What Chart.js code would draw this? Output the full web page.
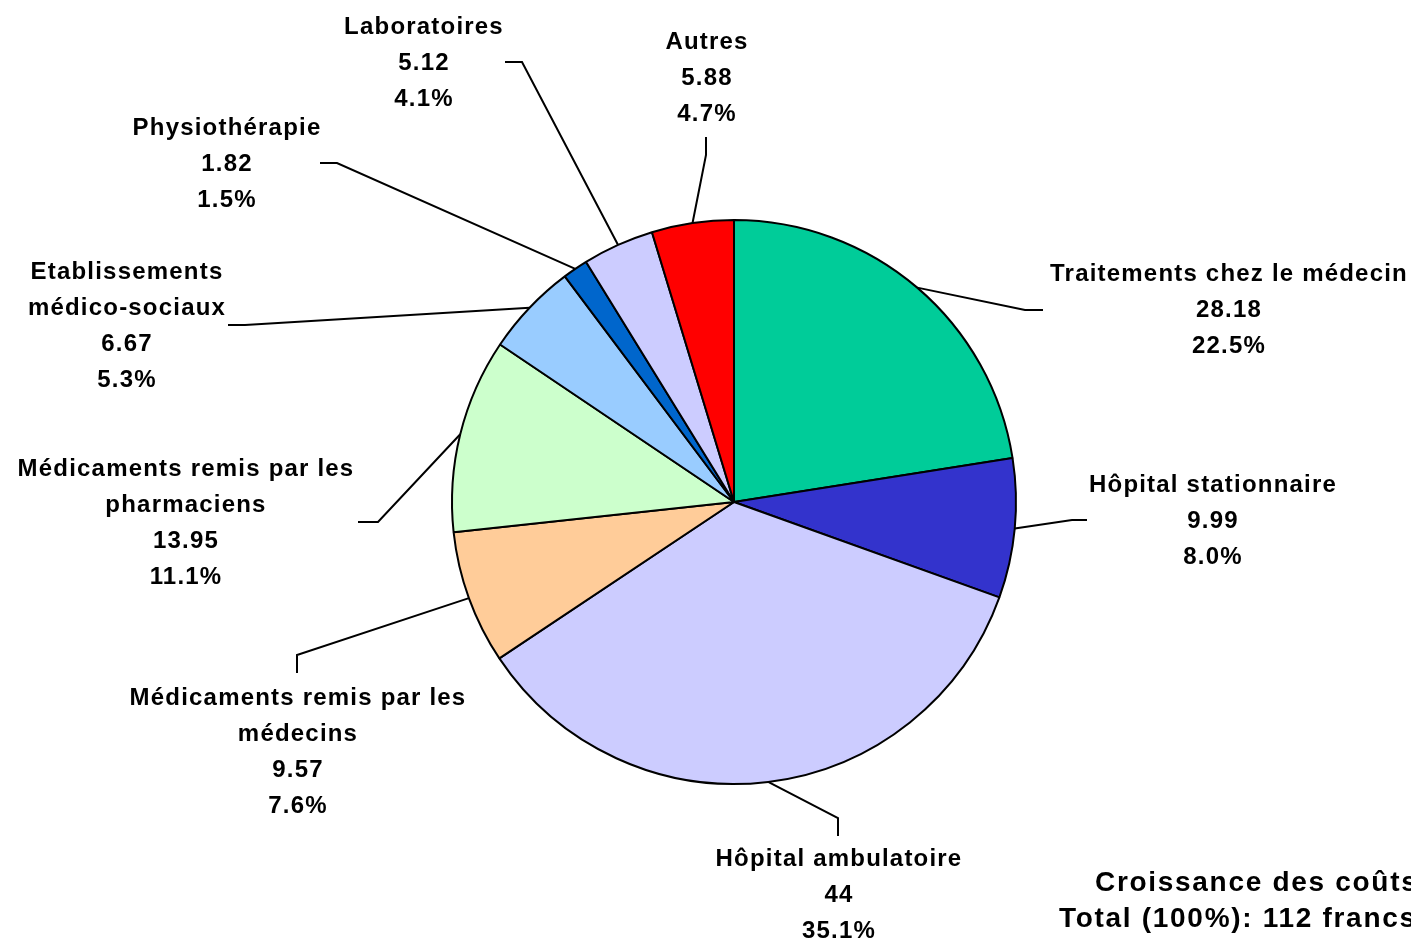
<!DOCTYPE html>
<html>
<head>
<meta charset="utf-8">
<script src="https://cdn.jsdelivr.net/npm/chart.js@4.4.1/dist/chart.umd.min.js"></script>
<style>
  html, body { margin: 0; padding: 0; background: #fff; overflow: hidden; }
  #wrap { width: 1411px; height: 942px; position: relative; }
</style>
</head>
<body>
<div id="wrap"><canvas id="pieChart" width="1411" height="942"></canvas></div>
<script>
// data
const categories = [
    ['Traitements chez le médecin'],
    ['Hôpital stationnaire'],
    ['Hôpital ambulatoire'],
    ['Médicaments remis par les', 'médecins'],
    ['Médicaments remis par les', 'pharmaciens'],
    ['Etablissements', 'médico-sociaux'],
    ['Physiothérapie'],
    ['Laboratoires'],
    ['Autres']
]
const values = [28.18, 9.99, 44, 9.57, 13.95, 6.67, 1.82, 5.12, 5.88]
const sliceColors = ['#00CC99', '#3333CC', '#CCCCFF', '#FFCC99', '#CCFFCC', '#99CCFF', '#0066CC', '#CCCCFF', '#FF0000']
const titleLines = ['Croissance des coûts', 'Total (100%): 112 francs']

// label placement: text centre x, first line y, elbow point, end point
const labelLayout = [
    {x: 1228, y: 273, elbow: [1025, 310], end: [1043, 310]},
    {x: 1212, y: 484, elbow: [1072, 520], end: [1087, 520]},
    {x: 838, y: 858, elbow: [838, 818], end: [838, 836]},
    {x: 297, y: 697, elbow: [297, 655], end: [297, 673]},
    {x: 185, y: 468, elbow: [378, 522], end: [358, 522]},
    {x: 126, y: 271, elbow: [245, 325], end: [228, 325]},
    {x: 226, y: 127, elbow: [337, 163], end: [320, 163]},
    {x: 423, y: 26, elbow: [522, 62], end: [505, 62]},
    {x: 706, y: 41, elbow: [706, 155], end: [706, 137]}
]

const FONT = '"Liberation Sans", Arial, sans-serif'
const total = values.reduce((a, b) => a + b, 0)

const pieLabels = {
    id: 'pieLabels',
    afterDatasetsDraw(chart) {
        const ctx = chart.ctx
        const meta = chart.getDatasetMeta(0)
        ctx.save()
        meta.data.forEach((arc, i) => {
            const p = arc.getProps(['x', 'y', 'startAngle', 'endAngle', 'outerRadius'], true)
            const mid = (p.startAngle + p.endAngle) / 2
            const ax = p.x + Math.cos(mid) * p.outerRadius
            const ay = p.y + Math.sin(mid) * p.outerRadius
            const lay = labelLayout[i]
            ctx.strokeStyle = '#000'
            ctx.lineWidth = 2
            ctx.beginPath()
            ctx.moveTo(ax, ay)
            ctx.lineTo(lay.elbow[0], lay.elbow[1])
            ctx.lineTo(lay.end[0], lay.end[1])
            ctx.stroke()

            const lines = categories[i].concat([String(values[i]), (values[i] / total * 100).toFixed(1) + '%'])
            ctx.fillStyle = '#000'
            ctx.font = 'bold 24px ' + FONT
            ctx.letterSpacing = '1.2px'
            ctx.textAlign = 'center'
            ctx.textBaseline = 'middle'
            lines.forEach((t, k) => ctx.fillText(t, lay.x + 1, lay.y + 1 + k * 36))
        })

        ctx.font = 'bold 28px ' + FONT
        ctx.letterSpacing = '1.7px'
        ctx.textAlign = 'left'
        ctx.textBaseline = 'middle'
        ctx.fillText(titleLines[0], 1095, 883)
        ctx.fillText(titleLines[1], 1059, 919)
        ctx.restore()
    }
}

const data = {
    labels: categories.map(c => c.join(' ')),
    datasets: [{
        data: values,
        backgroundColor: sliceColors,
        borderColor: '#000',
        borderWidth: 2,
        borderAlign: 'center'
    }]
}

const options = {
    responsive: false,
    animation: false,
    layout: { padding: { left: 451, right: 394, top: 219, bottom: 157 } },
    plugins: {
        legend: { display: false },
        tooltip: { enabled: false }
    }
}

new Chart('pieChart', {type: 'pie', data, options, plugins: [pieLabels]})
</script>
</body>
</html>
